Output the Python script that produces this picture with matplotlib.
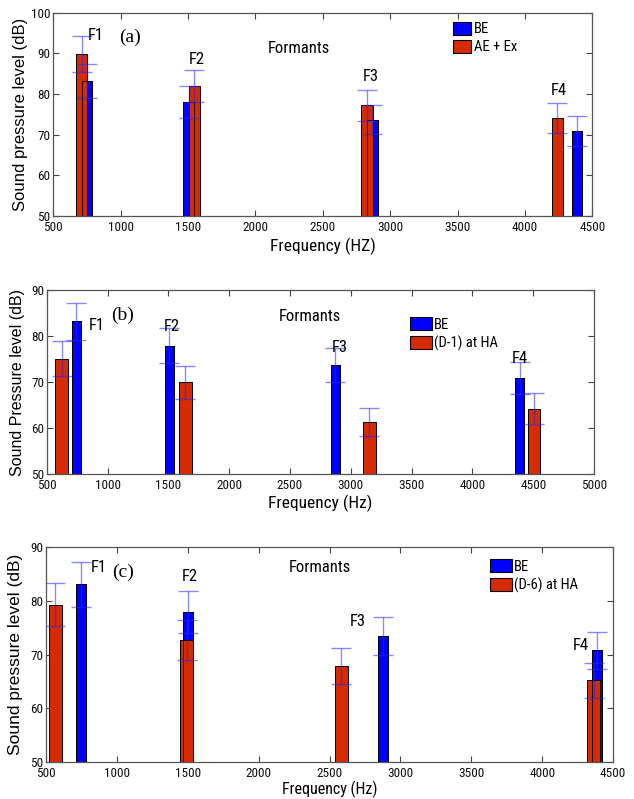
import matplotlib
matplotlib.use("Agg")
import matplotlib.pyplot as plt
from matplotlib import font_manager as fm
from matplotlib.patches import Patch

# ---------------- data ----------------
# Panel (a)
freq_a_be = [750, 1504, 2868, 4388]
spl_a_be = [83.2, 78.0, 73.7, 70.8]
err_a_be = [4.3, 3.9, 3.6, 3.7]
freq_a_ae = [710, 1546, 2828, 4240]
spl_a_ae = [89.8, 82.0, 77.2, 74.2]
err_a_ae = [4.5, 4.0, 3.9, 3.7]

# Panel (b)
freq_b_be = [745, 1507, 2873, 4390]
spl_b_be = [83.2, 77.9, 73.6, 70.8]
err_b_be = [4.0, 3.8, 3.7, 3.5]
freq_b_d1 = [623, 1641, 3152, 4507]
spl_b_d1 = [75.1, 69.9, 61.3, 64.2]
err_b_d1 = [3.8, 3.5, 3.1, 3.3]

# Panel (c)
freq_c_be = [747, 1501, 2875, 4386]
spl_c_be = [83.1, 78.0, 73.5, 70.8]
err_c_be = [4.2, 3.9, 3.6, 3.5]
freq_c_d6 = [567, 1492, 2582, 4364]
spl_c_d6 = [79.3, 72.7, 67.9, 65.2]
err_c_d6 = [4.0, 3.7, 3.4, 3.3]

formant_labels = ["F1", "F2", "F3", "F4"]
series_labels_a = ["BE", "AE + Ex"]
series_labels_b = ["BE", "(D-1) at HA"]
series_labels_c = ["BE", "(D-6) at HA"]

# ---------------- style ----------------
names = {f.name for f in fm.fontManager.ttflist}
NARROW = None
for cand in ["Liberation Sans Narrow", "Arial Narrow", "Roboto Condensed", "Open Sans Condensed"]:
    if cand in names:
        NARROW = dict(family=cand)
        break
if NARROW is None:
    NARROW = dict(family="DejaVu Sans", stretch="condensed")
REG = dict(family="Liberation Sans" if "Liberation Sans" in names else "DejaVu Sans")
SERIF = dict(family="Liberation Serif" if "Liberation Serif" in names else "DejaVu Serif")

BLUE = "#0000FF"
RED = "#D62A00"
EB_COLOR = (0.15, 0.15, 1.0, 0.55)

fig = plt.figure(figsize=(6.34, 7.99), dpi=100)
W, H = 634.0, 799.0


def make_axes(left, top, right, bottom):
    return fig.add_axes([left / W, 1 - bottom / H, (right - left) / W, (bottom - top) / H])


def panel(ax, f_be, s_be, e_be, w_be, f_2, s_2, e_2, w_2, xlim, ylim, xticks, yticks,
          xlabel, xlab_y, xlab_size, ylabel, ylab_x, ylab_size, labels, letter, letter_pos,
          f_pos, formants_pos, leg_anchor, handlelength):
    ax.bar(f_be, [v - ylim[0] for v in s_be], width=w_be, bottom=ylim[0], color=BLUE,
           edgecolor="black", linewidth=0.7, zorder=2)
    ax.bar(f_2, [v - ylim[0] for v in s_2], width=w_2, bottom=ylim[0], color=RED,
           edgecolor="black", linewidth=0.7, zorder=3)
    ax.bar(f_be, [v - ylim[0] for v in s_be], width=w_be, bottom=ylim[0], facecolor="none",
           edgecolor="black", linewidth=0.6, zorder=4)
    ax.errorbar(f_2, s_2, yerr=e_2, fmt="none", ecolor=EB_COLOR, elinewidth=1.0,
                capsize=7.5, capthick=1.0, zorder=5)
    ax.errorbar(f_be, s_be, yerr=e_be, fmt="none", ecolor=EB_COLOR, elinewidth=1.0,
                capsize=7.5, capthick=1.0, zorder=5)
    ax.set_xlim(*xlim)
    ax.set_ylim(*ylim)
    ax.set_xticks(xticks)
    ax.set_yticks(yticks)
    ax.tick_params(direction="in", top=True, right=True, length=4, width=0.8,
                   color="#444444", labelsize=9.5, pad=3.5)
    ax.tick_params(axis="y", pad=2)
    for lab in ax.get_xticklabels() + ax.get_yticklabels():
        lab.set(**NARROW)
        lab.set_color("#111111")
    for sp in ax.spines.values():
        sp.set_color("#555555")
        sp.set_linewidth(0.9)
    ax.set_xlabel(xlabel, fontsize=xlab_size, **NARROW)
    ax.xaxis.set_label_coords(0.5, xlab_y)
    ax.set_ylabel(ylabel, fontsize=ylab_size, **REG)
    ax.yaxis.set_label_coords(ylab_x, 0.5)
    for name, (x, y) in zip(formant_labels, f_pos):
        ax.text(x, y, name, ha="center", va="center", fontsize=12, zorder=6, **NARROW)
    ax.text(letter_pos[0], letter_pos[1], letter, ha="center", va="center", fontsize=14,
            zorder=6, **SERIF)
    ax.text(formants_pos[0], formants_pos[1], "Formants", ha="center", va="center",
            fontsize=12, zorder=6, **NARROW)
    handles = [Patch(facecolor=BLUE, edgecolor="black", linewidth=0.8),
               Patch(facecolor=RED, edgecolor="black", linewidth=0.8)]
    leg = ax.legend(handles, labels, loc="upper left", bbox_to_anchor=leg_anchor,
                    frameon=False, borderpad=0, borderaxespad=0, handlelength=handlelength,
                    handleheight=1.0, handletextpad=0.15, labelspacing=0.25,
                    prop=fm.FontProperties(size=10.5, **NARROW))
    leg.set_zorder(7)


ax_a = make_axes(53.3, 12.7, 592.3, 216.0)
panel(ax_a, freq_a_be, spl_a_be, err_a_be, 78, freq_a_ae, spl_a_ae, err_a_ae, 84,
      (500, 4500), (50, 100), range(500, 4501, 500), range(50, 101, 10),
      "Frequency (HZ)", -0.105, 12.5, "Sound pressure level (dB)", -0.047, 12, series_labels_a,
      "(a)", (1067, 93.9),
      [(815, 94.3), (1563, 88.6), (2855, 84.3), (4252, 80.9)], (2320, 91.3),
      (0.742, 0.956), 1.25)

ax_b = make_axes(46.7, 290.0, 594.0, 474.0)
panel(ax_b, freq_b_be, spl_b_be, err_b_be, 72, freq_b_d1, spl_b_d1, err_b_d1, 106,
      (500, 5000), (50, 90), range(500, 5001, 500), range(50, 91, 10),
      "Frequency (Hz)", -0.113, 12.5, "Sound Pressure level (dB)", -0.040, 11.5, series_labels_b,
      "(b)", (1122, 84.5),
      [(913, 82.2), (1527, 82.0), (2910, 77.4), (4390, 75.1)], (2665, 84.25),
      (0.664, 0.853), 1.5)

ax_c = make_axes(46.0, 547.3, 613.0, 762.0)
panel(ax_c, freq_c_be, spl_c_be, err_c_be, 72, freq_c_d6, spl_c_d6, err_c_d6, 92,
      (500, 4500), (50, 90), range(500, 4501, 500), range(50, 91, 10),
      "Frequency (Hz)", -0.086, 11.5, "Sound pressure level (dB)", -0.040, 12.5, series_labels_c,
      "(c)", (1045, 85.4),
      [(873, 86.3), (1512, 84.6), (2700, 76.1), (4272, 71.7)], (2429, 86.2),
      (0.7825, 0.944), 1.5)

fig.savefig("out.png", dpi=100)
